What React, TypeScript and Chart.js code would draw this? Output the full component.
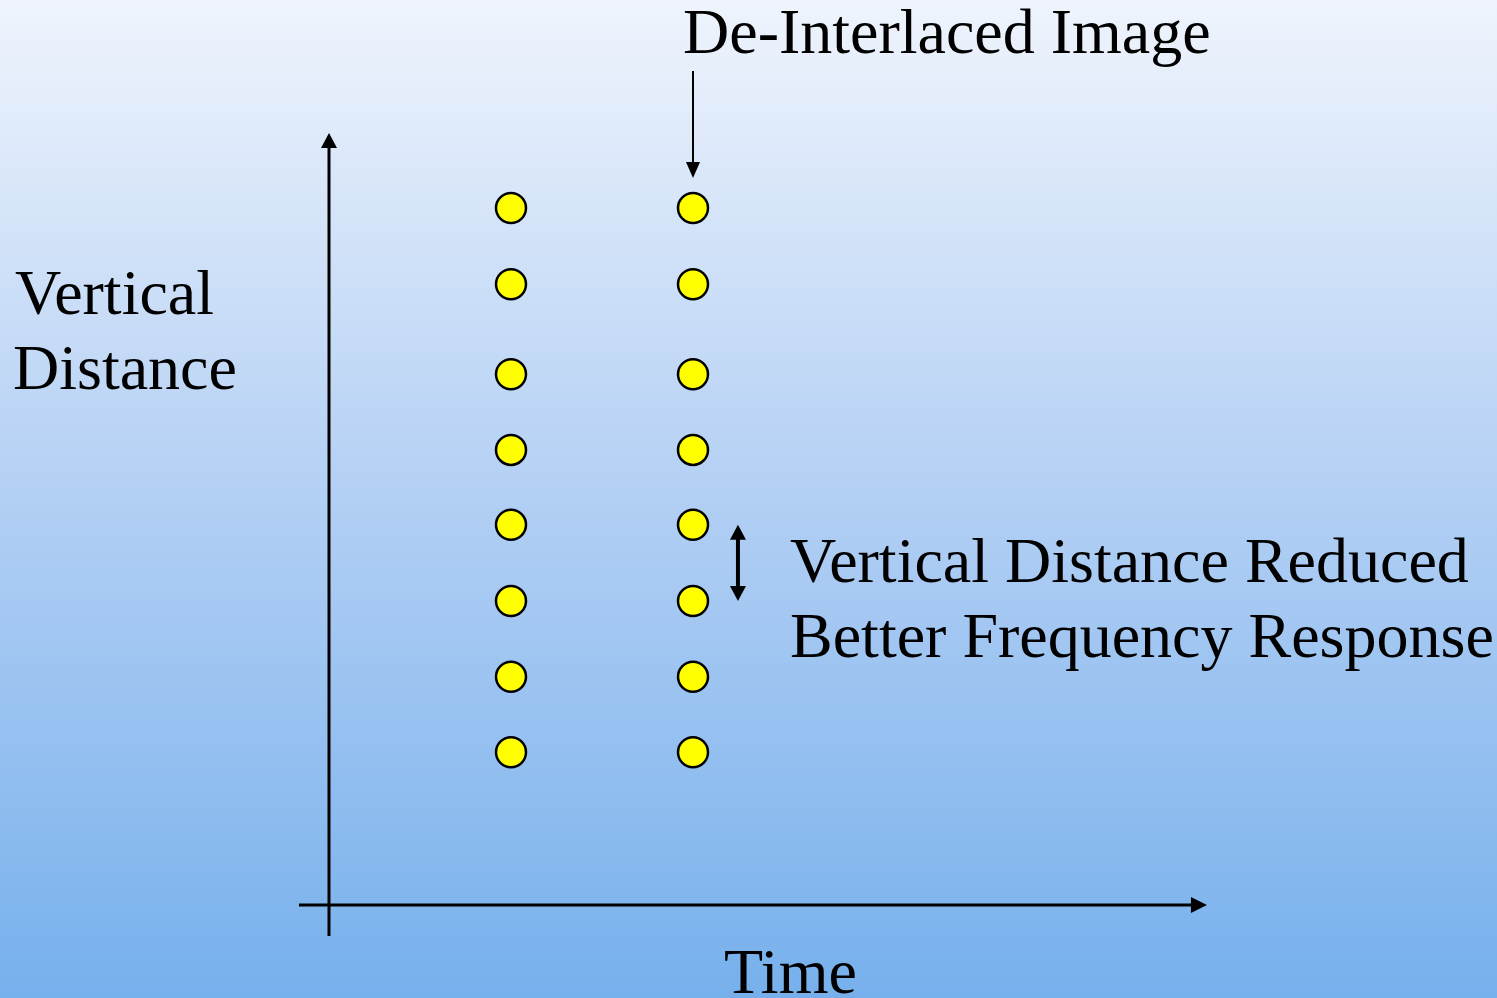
import React, { useEffect, useRef } from "react";
import { Chart, registerables } from "chart.js";

Chart.register(...registerables);

// Data: two sample times (fields), and vertical line positions (in line-spacing units)
const times = [1, 2];
const lineRows = [2.02, 3.02, 4.02, 5.03, 6.02, 7.02, 8.21, 9.22];
const labels = {
  title: "De-Interlaced Image",
  yLabel: ["Vertical", "Distance"],
  note: ["Vertical Distance Reduced", "Better Frequency Response"],
  xLabel: "Time",
};

const W = 1497;
const H = 998;
const FONT = '64px "Liberation Serif", "Times New Roman", serif';

function arrowHead(ctx: CanvasRenderingContext2D, x: number, y: number, dir: "up" | "down" | "right", len: number, half: number) {
  ctx.beginPath();
  if (dir === "up") {
    ctx.moveTo(x, y);
    ctx.lineTo(x - half, y + len);
    ctx.lineTo(x + half, y + len);
  } else if (dir === "down") {
    ctx.moveTo(x, y);
    ctx.lineTo(x - half, y - len);
    ctx.lineTo(x + half, y - len);
  } else {
    ctx.moveTo(x, y);
    ctx.lineTo(x - len, y - half);
    ctx.lineTo(x - len, y + half);
  }
  ctx.closePath();
  ctx.fill();
}

const diagramPlugin = {
  id: "diagram",
  beforeDraw(chart: any) {
    const ctx = chart.ctx as CanvasRenderingContext2D;
    const g = ctx.createLinearGradient(0, 0, 0, chart.height);
    g.addColorStop(0, "#EFF4FC");
    g.addColorStop(0.5, "#B2CFF4");
    g.addColorStop(1, "#76B0EC");
    ctx.save();
    ctx.fillStyle = g;
    ctx.fillRect(0, 0, chart.width, chart.height);
    ctx.restore();
  },
  afterDatasetsDraw(chart: any) {
    const ctx = chart.ctx as CanvasRenderingContext2D;
    const xs = chart.scales.x;
    const ys = chart.scales.y;
    const ox = xs.getPixelForValue(0);
    const oy = ys.getPixelForValue(0);
    ctx.save();
    ctx.strokeStyle = "#000";
    ctx.fillStyle = "#000";
    ctx.lineWidth = 3;
    // Y axis
    const yTop = ys.getPixelForValue(10.21);
    const yBot = ys.getPixelForValue(-0.41);
    ctx.beginPath();
    ctx.moveTo(ox, yBot);
    ctx.lineTo(ox, yTop + 12);
    ctx.stroke();
    arrowHead(ctx, ox, yTop, "up", 15, 8);
    // X axis
    const xLeft = xs.getPixelForValue(-0.165);
    const xRight = xs.getPixelForValue(4.824);
    ctx.beginPath();
    ctx.moveTo(xLeft, oy);
    ctx.lineTo(xRight - 12, oy);
    ctx.stroke();
    arrowHead(ctx, xRight, oy, "right", 16, 8);

    // Arrow from title down to column 2
    const ax = xs.getPixelForValue(times[1]);
    ctx.lineWidth = 2;
    ctx.beginPath();
    ctx.moveTo(ax, 71);
    ctx.lineTo(ax, 166);
    ctx.stroke();
    arrowHead(ctx, ax, 178, "down", 16, 7);

    // Double arrow between two rows
    const dx = xs.getPixelForValue(2.247);
    const dTop = ys.getPixelForValue(lineRows[3]);
    const dBot = ys.getPixelForValue(lineRows[2]);
    ctx.lineWidth = 4;
    ctx.beginPath();
    ctx.moveTo(dx, dTop + 10);
    ctx.lineTo(dx, dBot - 10);
    ctx.stroke();
    arrowHead(ctx, dx, dTop, "up", 15, 8);
    arrowHead(ctx, dx, dBot, "down", 15, 8);

    // Texts
    ctx.font = FONT;
    ctx.textAlign = "left";
    ctx.textBaseline = "alphabetic";
    ctx.fillText(labels.title, 683, 53);
    ctx.fillText(labels.yLabel[0], 15, 314);
    ctx.fillText(labels.yLabel[1], 13, 389);
    ctx.fillText(labels.note[0], 790, 582);
    ctx.fillText(labels.note[1], 790, 657);
    ctx.fillText(labels.xLabel, 724, 993);
    ctx.restore();
  },
};

export default function App() {
  const ref = useRef<HTMLCanvasElement | null>(null);
  useEffect(() => {
    document.body.style.margin = "0";
    const canvas = ref.current!;
    const chart = new Chart(canvas, {
      type: "scatter",
      data: {
        datasets: times.map((t) => ({
          label: `t${t}`,
          data: lineRows.map((r) => ({ x: t, y: r })),
          backgroundColor: "#FFFF00",
          borderColor: "#000000",
          borderWidth: 2.5,
          pointRadius: 15,
          pointHoverRadius: 15,
        })),
      },
      options: {
        responsive: false,
        animation: false,
        devicePixelRatio: 1,
        layout: { padding: 0, autoPadding: false },
        plugins: { legend: { display: false }, tooltip: { enabled: false } },
        scales: {
          x: { type: "linear", display: false, min: -329 / 182, max: (W - 329) / 182 },
          y: { type: "linear", display: false, min: -(H - 905) / 75.6, max: 905 / 75.6 },
        },
      },
      plugins: [diagramPlugin],
    });
    return () => chart.destroy();
  }, []);
  return (
    <div style={{ width: W, height: H }}>
      <canvas ref={ref} width={W} height={H} style={{ display: "block" }} />
    </div>
  );
}
